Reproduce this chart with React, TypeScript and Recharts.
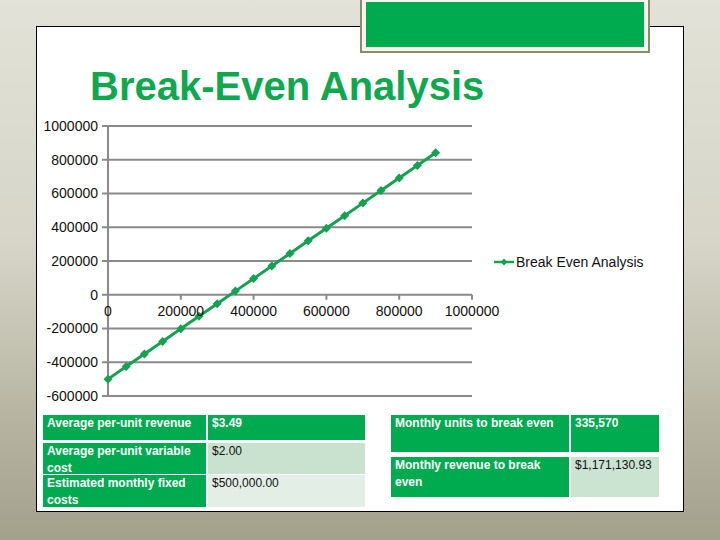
import { LineChart, Line, XAxis, YAxis, CartesianGrid, Legend } from 'recharts';

const units = [0, 50000, 100000, 150000, 200000, 250000, 300000, 350000, 400000, 450000, 500000, 550000, 600000, 650000, 700000, 750000, 800000, 850000, 900000];
const profit = [-500000, -425500, -351000, -276500, -202000, -127500, -53000, 21500, 96000, 170500, 245000, 319500, 394000, 468500, 543000, 617500, 692000, 766500, 841000];
const xTicks = [0, 200000, 400000, 600000, 800000, 1000000];
const yTicks = [-600000, -400000, -200000, 0, 200000, 400000, 600000, 800000, 1000000];
const seriesName = 'Break Even Analysis';

const inputLabels = ['Average per-unit revenue', 'Average per-unit variable cost', 'Estimated monthly fixed costs'];
const inputValues = ['$3.49', '$2.00', '$500,000.00'];
const resultLabels = ['Monthly units to break even', 'Monthly revenue to break even'];
const resultValues = ['335,570', '$1,171,130.93'];

const GREEN = '#00ab50';
const LINE = '#16a052';
const GRID = '#8a8a8a';

const W = 720;
const H = 540;
const margin = { top: 126, right: 248, bottom: 114, left: 48 };
const X_AXIS_H = 30;
const plotH = H - margin.top - margin.bottom - X_AXIS_H;
const yMin = yTicks[0];
const yMax = yTicks[yTicks.length - 1];

const chartData = units.map((u, i) => ({ units: u, profit: profit[i] }));

// x axis crosses at y = 0, so ticks are lifted up from the bottom of the plot
function ZeroTick(props: any) {
  const { x, y, payload } = props;
  const zeroY = y - (plotH * (0 - yMin)) / (yMax - yMin);
  return (
    <g>
      <line x1={x} x2={x} y1={zeroY} y2={zeroY + 5} stroke={GRID} strokeWidth={2} />
      <text x={x} y={zeroY + 21} textAnchor="middle" fontSize={14} fill="#111">
        {payload.value}
      </text>
    </g>
  );
}

function Diamond(props: any) {
  const { cx, cy } = props;
  if (cx == null || cy == null) return null;
  const r = 4.5;
  return <polygon points={`${cx},${cy - r} ${cx + r},${cy} ${cx},${cy + r} ${cx - r},${cy}`} fill={LINE} />;
}

function LegendBox(props: any) {
  const item = props.payload?.[0];
  return (
    <div style={{ display: 'flex', alignItems: 'center', fontSize: 14, color: '#111', whiteSpace: 'nowrap' }}>
      <svg width={22} height={10}>
        <line x1={0} x2={20} y1={5} y2={5} stroke={LINE} strokeWidth={2.5} />
        <polygon points="10,1.5 13.5,5 10,8.5 6.5,5" fill={LINE} />
      </svg>
      <span>{item ? item.value : seriesName}</span>
    </div>
  );
}

const cell = (bg: string, color: string, bold: boolean): any => ({
  position: 'absolute',
  background: bg,
  color,
  fontWeight: bold ? 'bold' : 'normal',
  fontSize: 12,
  lineHeight: '16.5px',
  padding: '0 4px',
  boxSizing: 'border-box',
  overflow: 'hidden',
});

export default function App() {
  const leftRows = [
    { top: 415, h: 25, bg: GREEN, fg: '#fff', bold: true },
    { top: 443, h: 31, bg: '#c9e2cf', fg: '#111', bold: false },
    { top: 475, h: 32, bg: '#e3efe6', fg: '#111', bold: false },
  ];
  const rightRows = [
    { top: 415, h: 37, bg: GREEN, fg: '#fff', bold: true },
    { top: 457, h: 40, bg: '#cbe3d1', fg: '#111', bold: false },
  ];

  return (
    <div
      style={{
        position: 'absolute',
        left: 0,
        top: 0,
        width: W,
        height: H,
        overflow: 'hidden',
        fontFamily: '"Liberation Sans", Arial, sans-serif',
        background: 'linear-gradient(180deg, #e2e2d8 0%, #d6d5c8 45%, #b9b7a4 75%, #a3a18c 100%)',
      }}
    >
      <div
        style={{
          position: 'absolute',
          left: 36,
          top: 26,
          width: 648,
          height: 486,
          background: '#fff',
          border: '1.5px solid #000',
          boxSizing: 'border-box',
        }}
      />
      <div
        style={{
          position: 'absolute',
          left: 360,
          top: -4,
          width: 290,
          height: 57,
          background: '#f4f6ee',
          border: '2.5px solid #8c8a68',
          boxSizing: 'border-box',
          padding: 4,
        }}
      >
        <div style={{ width: '100%', height: '100%', background: GREEN }} />
      </div>
      <div
        style={{
          position: 'absolute',
          left: 90,
          top: 63,
          fontSize: 40,
          fontWeight: 'bold',
          color: '#0fa84f',
          lineHeight: '46px',
          whiteSpace: 'nowrap',
        }}
      >
        Break-Even Analysis
      </div>

      <div style={{ position: 'absolute', left: 0, top: 0 }}>
        <LineChart width={W} height={H} data={chartData} margin={margin}>
          <CartesianGrid vertical={false} stroke={GRID} strokeWidth={2} />
          <XAxis
            dataKey="units"
            type="number"
            domain={[0, 1000000]}
            ticks={xTicks}
            height={X_AXIS_H}
            axisLine={false}
            tickLine={false}
            tickSize={0}
            tickMargin={0}
            interval={0}
            tick={<ZeroTick />}
          />
          <YAxis
            type="number"
            domain={[yMin, yMax]}
            ticks={yTicks}
            width={60}
            interval={0}
            axisLine={{ stroke: GRID, strokeWidth: 2 }}
            tickLine={{ stroke: GRID, strokeWidth: 2 }}
            tickSize={6}
            tickMargin={4}
            tick={{ fontSize: 14, fill: '#111' }}
          />
          <Legend
            layout="horizontal"
            verticalAlign="middle"
            align="center"
            content={<LegendBox />}
            wrapperStyle={{ position: 'absolute', left: 494, top: 254, width: 'auto' }}
          />
          <Line
            type="linear"
            dataKey="profit"
            name={seriesName}
            stroke={LINE}
            strokeWidth={3}
            dot={<Diamond />}
            activeDot={false}
            isAnimationActive={false}
          />
        </LineChart>
      </div>

      {leftRows.map((r, i) => (
        <div key={'l' + i}>
          <div style={{ ...cell(GREEN, '#fff', true), left: 43, top: r.top, width: 163, height: r.h }}>{inputLabels[i]}</div>
          <div style={{ ...cell(r.bg, r.fg, r.bold), left: 208, top: r.top, width: 157, height: r.h }}>{inputValues[i]}</div>
        </div>
      ))}
      {rightRows.map((r, i) => (
        <div key={'r' + i}>
          <div style={{ ...cell(GREEN, '#fff', true), left: 391, top: r.top, width: 178, height: r.h }}>{resultLabels[i]}</div>
          <div style={{ ...cell(r.bg, r.fg, r.bold), left: 571, top: r.top, width: 88, height: r.h }}>{resultValues[i]}</div>
        </div>
      ))}
    </div>
  );
}
